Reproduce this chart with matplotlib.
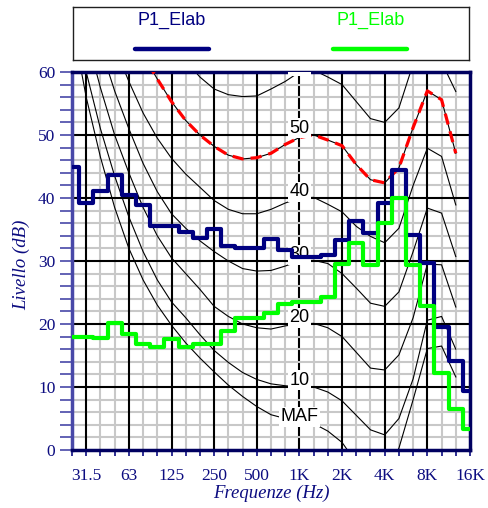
import numpy as np
import matplotlib
matplotlib.use("Agg")
import matplotlib.pyplot as plt
from matplotlib.ticker import FixedLocator, NullFormatter

# third octave bands 25 Hz .. 16 kHz
bands = ['25', '31.5', '40', '50', '63', '80', '100', '125', '160', '200', '250', '315',
         '400', '500', '630', '800', '1K', '1.25K', '1.6K', '2K', '2.5K', '3.15K', '4K',
         '5K', '6.3K', '8K', '10K', '12.5K', '16K']
octave_labels = ['31.5', '63', '125', '250', '500', '1K', '2K', '4K', '8K', '16K']

# measured spectra (dB per band)
p1_blue = [45.0, 39.2, 41.1, 43.6, 40.5, 38.9, 35.6, 35.6, 34.6, 33.6, 35.1, 32.4, 32.1, 32.1,
           33.5, 31.8, 30.7, 30.7, 31.0, 33.4, 36.3, 34.4, 39.2, 44.5, 34.2, 29.7, 19.6, 14.1, 9.4]
p1_green = [18.0, 18.0, 17.7, 20.1, 18.4, 16.8, 16.4, 17.6, 16.3, 16.9, 16.9, 18.9, 21.0, 21.0,
            21.7, 23.1, 23.5, 23.5, 24.3, 29.6, 32.9, 29.4, 36.0, 40.0, 29.4, 22.8, 12.2, 6.5, 3.4]

# isophonic curves, 25 Hz .. 12.5 kHz
iso_maf = [68, 56, 46.5, 38.5, 32, 27, 23, 19.8, 17.0, 14.6, 12.4, 10.3, 8.5, 6.9, 5.6, 5.0,
           4.8, 4.2, 3.0, 1.2, -2, -4, -4.5, 0.3, 8, 16.1, 16.5, 11.6]
iso_10 = [70, 60, 51, 43.5, 37, 31.5, 27, 23.5, 21, 18.3, 15.8, 13.9, 12.3, 11.2, 10.5, 10.2,
          10.0, 10.0, 9.2, 7.8, 5.5, 3.2, 2.4, 5.0, 11.3, 20.6, 21.2, 16.0]
iso_20 = [75, 66, 57.5, 50, 44, 38.5, 34, 30.5, 28, 25.5, 22.8, 21.2, 20.0, 19.4, 19.2, 19.7,
          20, 20.1, 19.4, 18.0, 15.5, 13.0, 12.7, 15.1, 21, 29.5, 29.4, 22.7]
iso_30 = [80, 72, 64, 57, 51, 45.5, 41, 37.5, 35.2, 33.2, 31.5, 30, 28.8, 28.4, 28.5, 29.2,
          30, 30.1, 29.6, 28.0, 25.7, 23.3, 22.8, 25.1, 31.5, 38.4, 37.6, 30.7]
iso_40 = [82, 76, 70, 64, 58.5, 53.5, 49.5, 46.3, 43.8, 41.7, 39.6, 38.2, 37.5, 37.5, 38.2, 39.2,
          40, 40.1, 39.0, 37.8, 35.5, 33.9, 32.9, 35.2, 42, 47.9, 46.6, 38.9]
iso_50 = [90, 84, 78, 72, 67, 62.7, 58.9, 55.3, 52.3, 50.0, 48.2, 46.8, 46.2, 46.4, 47.1, 48.5,
          49.6, 50.0, 49.2, 48.3, 45.3, 42.9, 42.4, 44.8, 51.2, 57.0, 55.6, 47.1]
iso_60 = [100, 95, 90, 85, 80, 74, 69, 65, 61.8, 59.2, 57.3, 56.4, 56.1, 56.2, 57.3, 58.5,
          60, 60.3, 59.2, 58.0, 55.3, 52.6, 52.0, 54.3, 61.3, 66, 61.6, 56.9]
iso_names = ['MAF', '10', '20', '30', '40', '50', '60']
iso_label_y = [5.3, 11.1, 21.0, 31.0, 41.0, 51.1, 61.0]

navy = '#0c0c80'
x = np.arange(len(bands))
xi = np.arange(len(iso_maf))
oct_idx = [bands.index(b) for b in octave_labels]
k1 = bands.index('1K')

fig = plt.figure(figsize=(4.89, 5.08), dpi=100)
ax = fig.add_axes([72 / 489, 58 / 508, 398 / 489, 378 / 508])
ax.set_xlim(0, len(bands) - 1)
ax.set_ylim(0, 60)

# grid: thin grey every band / 2 dB, black at octaves / 10 dB
for i in x:
    if i not in oct_idx:
        ax.axvline(i, color='#c8c8c8', lw=1.5, zorder=0.1)
for v in range(2, 60, 2):
    if v % 10:
        ax.axhline(v, color='#c8c8c8', lw=1.5, zorder=0.1)
for i in oct_idx[:-1]:
    # the 1K line sits under the grey grid, so it looks broken
    ax.axvline(i, color='black', lw=1.5, zorder=0.05 if i == k1 else 0.5)
for v in range(10, 60, 10):
    ax.axhline(v, color='black', lw=1.5, zorder=0.5)

ax.xaxis.set_major_locator(FixedLocator(oct_idx))
ax.xaxis.set_minor_locator(FixedLocator(list(x)))
ax.yaxis.set_major_locator(FixedLocator(list(range(0, 61, 10))))
ax.yaxis.set_minor_locator(FixedLocator(list(range(0, 61, 2))))
ax.xaxis.set_minor_formatter(NullFormatter())
ax.set_xticklabels(octave_labels)

for s in ['bottom', 'top', 'right']:
    ax.spines[s].set_color('#000060')
    ax.spines[s].set_linewidth(2.5)
ax.spines['left'].set_color('#4848a8')
ax.spines['left'].set_linewidth(2.5)

ax.tick_params(axis='x', which='both', direction='out', length=4, width=1.2, color=navy,
               pad=9, labelsize=12.5, labelcolor=navy)
ax.tick_params(axis='y', which='both', direction='out', length=9, width=1.2, color='#4848a8',
               pad=3, labelsize=12.5, labelcolor=navy)
for lab in ax.get_xticklabels() + ax.get_yticklabels():
    lab.set_fontfamily('Liberation Serif')

# isophones
curves = [iso_maf, iso_10, iso_20, iso_30, iso_40, iso_50, iso_60]
for c in curves:
    ax.plot(xi, c, color='black', lw=0.8, zorder=2)
ax.plot(xi, iso_50, color='red', lw=2.3, ls=(0, (3.5, 2.2)), zorder=3)

for name, yy in zip(iso_names, iso_label_y):
    t = ax.text(k1, yy, name, ha='center', va='center', fontsize=13,
                family='Liberation Sans', color='black', zorder=4,
                bbox=dict(facecolor='white', edgecolor='none', pad=1.0))
    t.set_clip_on(True)

ax.step(x, p1_blue, where='mid', color='#000080', lw=3, zorder=5)
ax.step(x, p1_green, where='mid', color='#00ff00', lw=3, zorder=5)

fig.text(271 / 489, 1 - 493 / 508, 'Frequenze (Hz)', ha='center', va='center',
         family='Liberation Serif', style='italic', fontsize=13.5, color=navy)
fig.text(22 / 489, 1 - 265 / 508, 'Livello (dB)', ha='center', va='center', rotation=90,
         family='Liberation Serif', style='italic', fontsize=13.5, color=navy)

# legend box on top
lax = fig.add_axes([72.5 / 489, (508 - 60) / 508, 397 / 489, 53 / 508])
lax.set_xlim(0, 1)
lax.set_ylim(0, 1)
lax.set_xticks([])
lax.set_yticks([])
for s in lax.spines.values():
    s.set_color('#202020')
    s.set_linewidth(1)
lax.text(0.25, 0.75, 'P1_Elab', ha='center', va='center', color='#000080', fontsize=13,
         family='Liberation Sans')
lax.plot([0.157, 0.343], [0.21, 0.21], color='#000080', lw=3.2, solid_capstyle='round')
lax.text(0.75, 0.75, 'P1_Elab', ha='center', va='center', color='#00ff00', fontsize=13,
         family='Liberation Sans')
lax.plot([0.655, 0.843], [0.21, 0.21], color='#00ff00', lw=3.2, solid_capstyle='round')

fig.savefig('out.png', dpi=100)
